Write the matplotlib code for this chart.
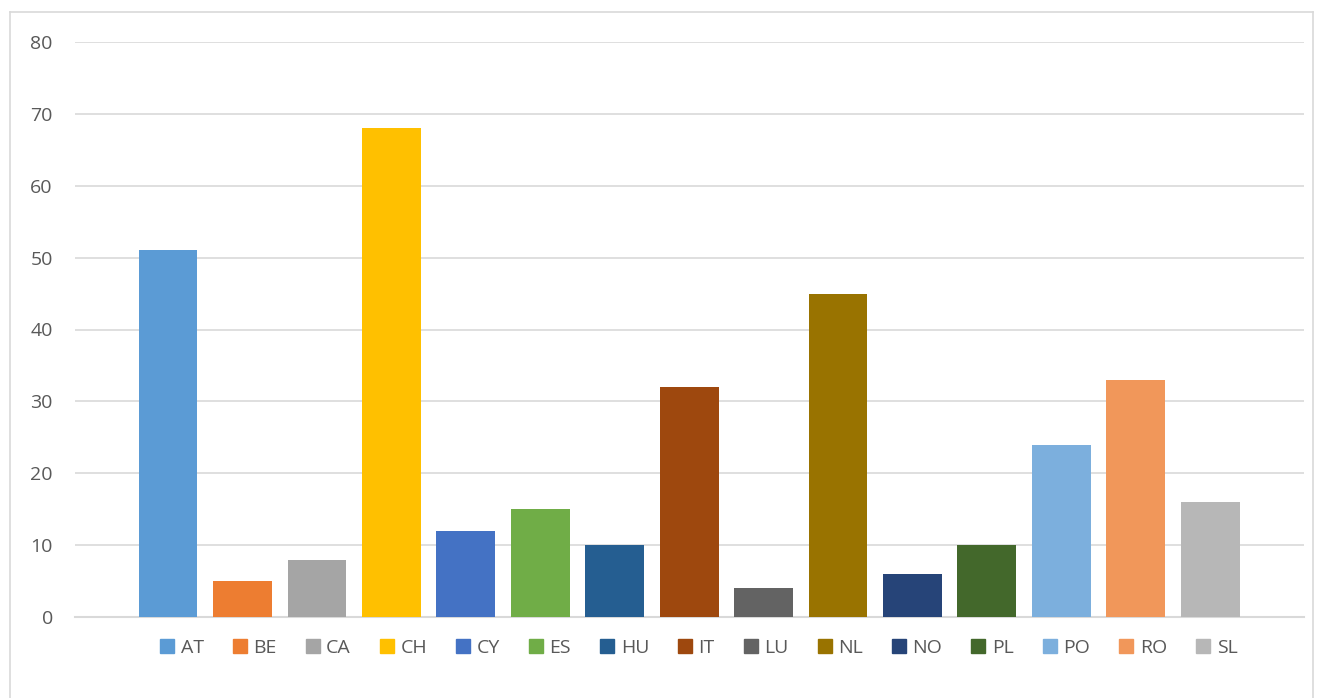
import matplotlib.pyplot as plt
from matplotlib.lines import Line2D

plt.rcParams['font.family'] = ['Open Sans', 'DejaVu Sans']

countries = ["AT", "BE", "CA", "CH", "CY", "ES", "HU", "IT", "LU", "NL", "NO", "PL", "PO", "RO", "SL"]
values = [51, 5, 8, 68, 12, 15, 10, 32, 4, 45, 6, 10, 24, 33, 16]
colors = ["#5B9BD5", "#ED7D31", "#A5A5A5", "#FFC000", "#4472C4", "#70AD47", "#255E91",
          "#9E480E", "#636363", "#997300", "#264478", "#43682B", "#7CAFDD", "#F1975A", "#B7B7B7"]

fig = plt.figure(figsize=(13.2, 6.98), dpi=100)
ax = fig.add_axes([75 / 1320, 81 / 698, 1229 / 1320, 575 / 698])

x = list(range(len(countries)))
bars = ax.bar(x, values, width=0.79, color=colors, zorder=3)

ax.set_ylim(0, 80)
ax.set_xlim(-1.25, 15.26)
ax.set_yticks(range(0, 81, 10))
ax.set_xticks([])
ax.yaxis.grid(True, color="#D9D9D9", linewidth=1.2, zorder=0)
for s in ["top", "right", "left"]:
    ax.spines[s].set_visible(False)
ax.spines["bottom"].set_color("#D9D9D9")
ax.spines["bottom"].set_linewidth(1.5)
ax.tick_params(axis="y", length=0, labelsize=14, labelcolor="#595959", pad=16)

handles = [Line2D([], [], marker="s", linestyle="none", markersize=10,
                  markerfacecolor=c, markeredgecolor=c) for c in colors]
fig.legend(handles, countries, loc="center", bbox_to_anchor=(0.529, 1 - 648 / 698),
           ncol=len(countries), frameon=False, fontsize=14, labelcolor="#595959",
           handlelength=0.8, handletextpad=0.3, columnspacing=1.45)

# outer chart border
bc = "#D9D9D9"
fig.add_artist(Line2D([10 / 1320, 10 / 1320], [-0.01, 1 - 12 / 698], transform=fig.transFigure, color=bc, lw=1.2))
fig.add_artist(Line2D([10 / 1320, 1313 / 1320], [1 - 12 / 698, 1 - 12 / 698], transform=fig.transFigure, color=bc, lw=1.2))
fig.add_artist(Line2D([1313 / 1320, 1313 / 1320], [-0.01, 1 - 12 / 698], transform=fig.transFigure, color=bc, lw=1.2))

fig.savefig("out.png", dpi=100)
